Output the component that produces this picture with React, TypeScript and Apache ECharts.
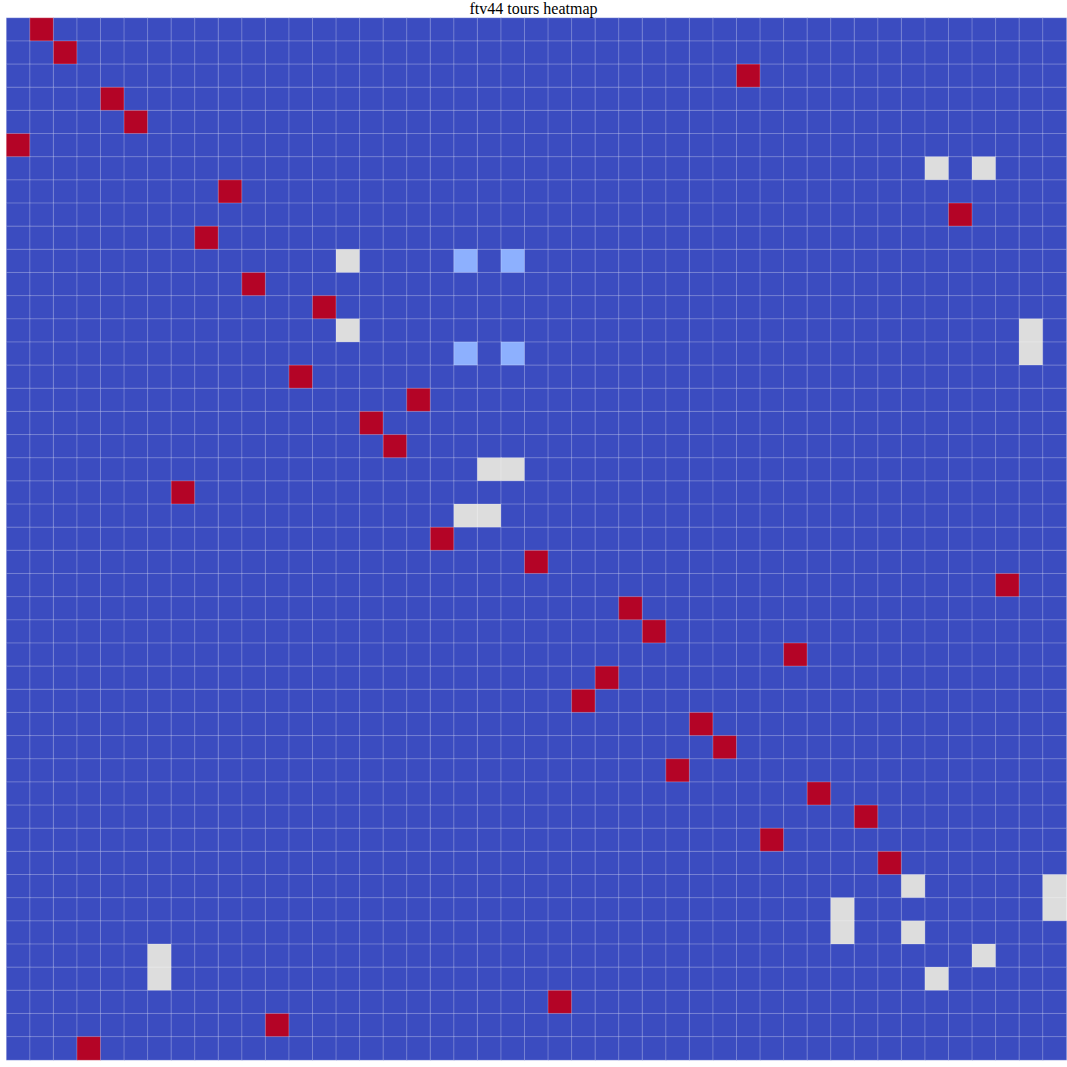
import React, { useEffect, useRef } from "react";
import * as echarts from "echarts";

const N = 45;
const nodes: number[] = Array.from({ length: N }, (_, i) => i);
// column of the cell with value 1 in each row (-1: none)
const fullCols: number[] = [
  1, 2, 31, 4, 5, 0, -1, 9, 40, 8, -1, 10, 13, -1, -1, 12, 17, 15, 16, -1, 7, -1, 18,
  22, 42, 26, 27, 33, 25, 24, 29, 30, 28, 34, 36, 32, 37, -1, -1, -1, -1, -1, 23, 11, 3,
];
// [row, col] cells with value 0.5
const halfCells: [number, number][] = [
  [6, 39], [6, 41], [10, 14], [13, 14], [13, 43], [14, 43], [19, 20], [19, 21],
  [21, 19], [21, 20], [37, 38], [37, 44], [38, 35], [38, 44], [39, 35], [39, 38],
  [40, 6], [40, 41], [41, 6], [41, 39],
];
// [row, col] cells with value 0.25
const quarterCells: [number, number][] = [
  [10, 19], [10, 21], [14, 19], [14, 21],
];

export default function App() {
  const ref = useRef<HTMLDivElement>(null);
  useEffect(() => {
    if (!ref.current) return;
    const chart = echarts.init(ref.current, null, { renderer: "svg" });
    const m: number[][] = nodes.map(() => nodes.map(() => 0));
    fullCols.forEach((c, r) => {
      if (c >= 0) m[r][c] = 1;
    });
    halfCells.forEach(([r, c]) => (m[r][c] = 0.5));
    quarterCells.forEach(([r, c]) => (m[r][c] = 0.25));
    const data: number[][] = [];
    for (let r = 0; r < N; r++) for (let c = 0; c < N; c++) data.push([c, r, m[r][c]]);
    chart.setOption({
      animation: false,
      title: {
        text: "ftv44 tours heatmap",
        left: "center",
        top: 0,
        padding: 0,
        textStyle: { fontFamily: "Liberation Serif", fontSize: 16, fontWeight: "normal", color: "#000", lineHeight: 16 },
      },
      grid: { left: 6.5, top: 18, width: 1060, height: 1042 },
      xAxis: { type: "category", data: nodes, show: false },
      yAxis: { type: "category", data: nodes, show: false, inverse: true },
      visualMap: {
        show: false,
        min: 0,
        max: 1,
        inRange: { color: ["#3b4cc0", "#8db0fe", "#dddddd", "#f49a7b", "#b40426"] },
      },
      series: [
        {
          type: "heatmap",
          data,
          itemStyle: { borderColor: "rgba(255,255,255,0.25)", borderWidth: 1 },
          emphasis: { disabled: true },
        },
      ],
    });
    return () => chart.dispose();
  }, []);
  return <div ref={ref} style={{ position: "fixed", left: 0, top: 0, width: 1067, height: 1067, background: "#fff" }} />;
}
